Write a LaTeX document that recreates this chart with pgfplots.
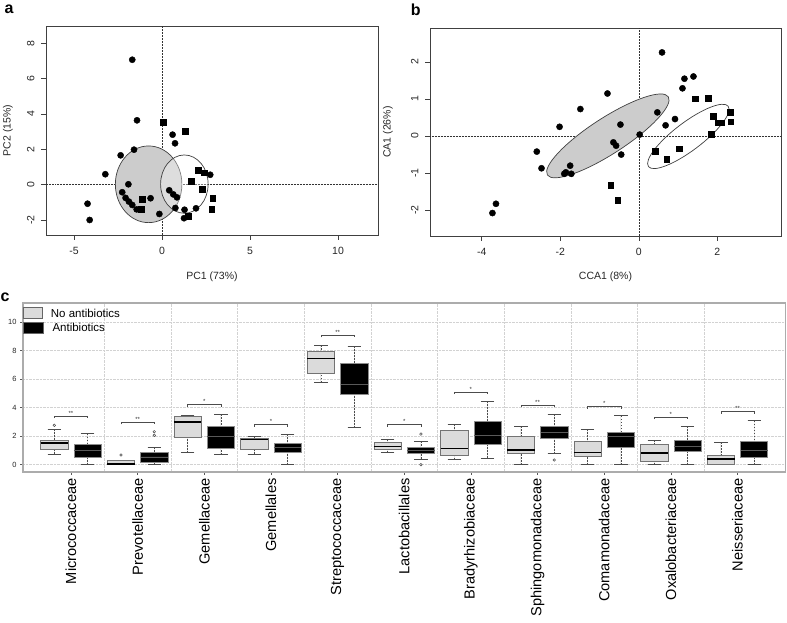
\documentclass[border=0pt]{standalone}
\usepackage{pgfplots}
\pgfplotsset{compat=1.18}
\usepgfplotslibrary{statistics}
\usetikzlibrary{shapes.geometric}
\usepackage{fontspec}
\setmainfont{Liberation Sans}
\begin{document}
\begin{tikzpicture}
\useasboundingbox (0,0) rectangle (787pt,623pt);
\pgfplotsset{
  rstyle/.style={scale only axis, axis line style={black!75, line width=0.8pt},
    tick pos=left, tick align=outside, major tick length=5pt,
    tick style={black!75, line width=0.7pt},
    /pgf/number format/assume math mode=true,
    ticklabel style={font=\fontsize{10.5}{12}\selectfont, text=black!85},
    label style={font=\fontsize{10.5}{12}\selectfont, text=black!85},
    yticklabel style={rotate=90, anchor=south},
    xticklabel shift=4pt, yticklabel shift=3pt,
  },
  circ/.style={only marks, mark=*, mark size=3.1pt, black},
  sq/.style={only marks, mark=square*, mark size=2.9pt, black},
  zline/.style={black!80, line width=0.5pt, densely dotted, no marks},
}
% ---------------- panel a ----------------
\begin{axis}[rstyle, at={(46pt,388pt)}, anchor=south west, width=332pt, height=209pt,
  xmin=-6.59, xmax=12.27, ymin=-2.85, ymax=8.98,
  xtick={-5,0,5,10}, ytick={-2,0,2,4,6,8},
  xlabel={PC1 (73\%)}, ylabel={PC2 (15\%)},
  xlabel style={at={([yshift=-42pt]axis description cs:0.5,0)}, anchor=center},
  ylabel style={at={([xshift=-38pt]axis description cs:0,0.5)}, anchor=center}]
\addplot[zline] coordinates {(0,-2.85) (0,8.98)};
\addplot[zline] coordinates {(-6.59,0) (12.27,0)};
\draw[black!75, line width=0.7pt, fill=gray!40] (axis cs:-0.76,0.02) ellipse [x radius=1.89, y radius=2.17];
\draw[black!75, line width=0.7pt, fill=white, fill opacity=0.35] (axis cs:1.27,0.03) ellipse [x radius=1.35, y radius=1.65];
\addplot[circ] coordinates {
(-1.69,7.07) (-1.42,3.64) (-1.59,1.98) (-2.35,1.66) (-3.22,0.59) (-1.91,0.02)
(-2.26,-0.43) (-2.07,-0.75) (-1.88,-0.96) (-1.69,-1.15) (-1.44,-1.40) (-0.65,-0.77)
(-0.15,-1.66) (-4.23,-1.08) (-4.11,-2.00) (0.60,2.83) (0.74,2.34) (2.74,0.56)
(0.41,-0.32) (0.64,-0.55) (0.85,-0.72) (0.76,-1.32) (1.28,-1.42) (1.93,-1.34) (1.25,-1.90)};
\addplot[sq] coordinates {
(-1.19,-1.40) (-1.14,-0.83) (0.07,3.53) (1.34,3.02) (2.06,0.83) (2.40,0.68)
(1.68,0.21) (2.27,-0.27) (2.88,-0.75) (2.82,-1.38) (1.49,-1.79)};
\end{axis}
% ---------------- panel b ----------------
\begin{axis}[rstyle, at={(430pt,387pt)}, anchor=south west, width=351pt, height=208pt,
  xmin=-5.32, xmax=3.62, ymin=-2.70, ymax=2.92,
  xtick={-4,-2,0,2}, ytick={-2,-1,0,1,2},
  xlabel={CCA1 (8\%)}, ylabel={CA1 (26\%)},
  xlabel style={at={([yshift=-41pt]axis description cs:0.5,0)}, anchor=center},
  ylabel style={at={([xshift=-42pt]axis description cs:0,0.5)}, anchor=center}]
\addplot[zline] coordinates {(0,-2.70) (0,2.92)};
\addplot[zline] coordinates {(-5.32,0) (3.62,0)};
\node[ellipse, draw=black!75, line width=0.7pt, fill=gray!40, minimum width=144pt, minimum height=36pt, inner sep=0pt, rotate=32.9] at (axis cs:-0.79,0.005) {};
\node[ellipse, draw=black!75, line width=0.7pt, minimum width=100pt, minimum height=28pt, inner sep=0pt, rotate=37.1] at (axis cs:1.26,-0.01) {};
\addplot[circ] coordinates {
(0.59,2.26) (1.16,1.55) (1.39,1.61) (1.11,1.29) (-0.80,1.15) (-1.49,0.73)
(-2.02,0.25) (0.47,0.64) (0.92,0.46) (0.68,0.29) (-0.47,0.31) (0.02,0.04)
(-0.65,-0.17) (-0.58,-0.26) (-0.45,-0.50) (-2.60,-0.42) (-2.48,-0.87) (-1.75,-0.80)
(-1.86,-0.98) (-1.90,-1.02) (-1.72,-1.02) (-3.64,-1.83) (-3.73,-2.08)};
\addplot[sq] coordinates {
(1.43,1.01) (1.77,1.03) (-0.72,-1.32) (-0.54,-1.73) (2.33,0.65) (2.34,0.39)
(1.90,0.53) (2.03,0.36) (2.10,0.36) (1.84,0.06) (1.03,-0.34) (0.42,-0.40) (0.71,-0.63)};
\end{axis}
% ---------------- panel c ----------------
\pgfplotsset{
  gbox/.style={draw=black!55, fill=gray!28, line width=0.7pt, mark=o, mark size=1.3pt,
     mark options={black!70, solid, fill=none, line width=0.5pt},
     boxplot/every median/.style={black, line width=1.6pt}},
  bbox/.style={draw=black!45, fill=black, line width=0.7pt, mark=o, mark size=1.3pt,
     mark options={black!70, solid, fill=none, line width=0.5pt},
     boxplot/every median/.style={black!65, line width=0.6pt}},
  brk/.style={black!70, line width=0.6pt, no marks},
}
\begin{axis}[at={(23pt,151pt)}, anchor=south west, scale only axis, width=762.5pt, height=169pt,
  xmin=-0.72, xmax=10.72, ymin=-0.51, ymax=11.33,
  axis line style={gray!65, line width=1.2pt},
  tick pos=left, tick align=outside, major tick length=3pt, minor tick length=0pt,
  tick style={gray!70!black, line width=0.5pt},
  xtick={0,...,10}, minor xtick={0.5,1.5,...,9.5},
  xticklabels={Micrococcaceae,Prevotellaceae,Gemellaceae,Gemellales,Streptococcaceae,Lactobacillales,Bradyrhizobiaceae,Sphingomonadaceae,Comamonadaceae,Oxalobacteriaceae,Neisseriaceae},
  xticklabel style={rotate=90, anchor=east, font=\fontsize{14.6}{16}\selectfont},
  ytick={0,2,4,6,8,10},
  /pgf/number format/assume math mode=true,
  yticklabel style={font=\fontsize{7.5}{9}\selectfont, text=black!85},
  ymajorgrids, xminorgrids,
  major grid style={gray!35, densely dotted, line width=0.5pt},
  minor grid style={gray!35, densely dotted, line width=0.5pt},
  boxplot/draw direction=y,
  boxplot/box extend=0.41, boxplot/whisker extend=0.2,
  boxplot/draw/lower whisker/.code={%
    \draw[black!70, line width=0.6pt, dash pattern=on 1.6pt off 1.4pt]
      (boxplot cs:\pgfplotsboxplotvalue{lower whisker}) -- (boxplot cs:\pgfplotsboxplotvalue{lower quartile});
    \draw[black!70, line width=0.7pt, solid]
      (boxplot whisker cs:\pgfplotsboxplotvalue{lower whisker},0) -- (boxplot whisker cs:\pgfplotsboxplotvalue{lower whisker},1);
  },
  boxplot/draw/upper whisker/.code={%
    \draw[black!70, line width=0.6pt, dash pattern=on 1.6pt off 1.4pt]
      (boxplot cs:\pgfplotsboxplotvalue{upper whisker}) -- (boxplot cs:\pgfplotsboxplotvalue{upper quartile});
    \draw[black!70, line width=0.7pt, solid]
      (boxplot whisker cs:\pgfplotsboxplotvalue{upper whisker},0) -- (boxplot whisker cs:\pgfplotsboxplotvalue{upper whisker},1);
  },
]
% 0 Micrococcaceae
\addplot[gbox, boxplot prepared={draw position=-0.25, lower whisker=0.75, lower quartile=1.05, median=1.54, upper quartile=1.71, upper whisker=2.48}] table[row sep=\\,y index=0] {data\\ 2.76\\};
\addplot[bbox, boxplot prepared={draw position=0.25, lower whisker=0, lower quartile=0.49, median=1.0, upper quartile=1.43, upper whisker=2.17}] coordinates {};
% 1 Prevotellaceae
\addplot[gbox, boxplot prepared={draw position=0.75, lower whisker=0, lower quartile=0, median=0.05, upper quartile=0.28, upper whisker=0.33}] table[row sep=\\,y index=0] {data\\ 0.68\\};
\addplot[bbox, boxplot prepared={draw position=1.25, lower whisker=0, lower quartile=0.16, median=0.55, upper quartile=0.89, upper whisker=1.21}] table[row sep=\\,y index=0] {data\\ 2.06\\ 2.31\\};
% 2 Gemellaceae
\addplot[gbox, boxplot prepared={draw position=1.75, lower whisker=0.84, lower quartile=1.89, median=3.01, upper quartile=3.36, upper whisker=3.48}] coordinates {};
\addplot[bbox, boxplot prepared={draw position=2.25, lower whisker=0.70, lower quartile=1.12, median=2.0, upper quartile=2.69, upper whisker=3.53}] coordinates {};
% 3 Gemellales
\addplot[gbox, boxplot prepared={draw position=2.75, lower whisker=0.75, lower quartile=1.10, median=1.78, upper quartile=1.82, upper whisker=1.96}] coordinates {};
\addplot[bbox, boxplot prepared={draw position=3.25, lower whisker=0, lower quartile=0.89, median=1.2, upper quartile=1.50, upper whisker=2.15}] coordinates {};
% 4 Streptococcaceae
\addplot[gbox, boxplot prepared={draw position=3.75, lower whisker=5.77, lower quartile=6.43, median=7.45, upper quartile=7.97, upper whisker=8.36}] coordinates {};
\addplot[bbox, boxplot prepared={draw position=4.25, lower whisker=2.59, lower quartile=4.93, median=5.6, upper quartile=7.10, upper whisker=8.29}] coordinates {};
% 5 Lactobacillales
\addplot[gbox, boxplot prepared={draw position=4.75, lower whisker=0.84, lower quartile=1.07, median=1.28, upper quartile=1.59, upper whisker=1.78}] coordinates {};
\addplot[bbox, boxplot prepared={draw position=5.25, lower whisker=0.40, lower quartile=0.79, median=1.0, upper quartile=1.24, upper whisker=1.64}] table[row sep=\\,y index=0] {data\\ 2.15\\ 0.0\\};
% 6 Bradyrhizobiaceae
\addplot[gbox, boxplot prepared={draw position=5.75, lower whisker=0.37, lower quartile=0.65, median=1.14, upper quartile=2.41, upper whisker=2.85}] coordinates {};
\addplot[bbox, boxplot prepared={draw position=6.25, lower whisker=0.47, lower quartile=1.45, median=2.08, upper quartile=3.04, upper whisker=4.44}] coordinates {};
% 7 Sphingomonadaceae
\addplot[gbox, boxplot prepared={draw position=6.75, lower whisker=0, lower quartile=0.79, median=1.05, upper quartile=2.01, upper whisker=2.69}] coordinates {};
\addplot[bbox, boxplot prepared={draw position=7.25, lower whisker=0.77, lower quartile=1.87, median=2.27, upper quartile=2.66, upper whisker=3.55}] table[row sep=\\,y index=0] {data\\ 0.33\\};
% 8 Comamonadaceae
\addplot[gbox, boxplot prepared={draw position=7.75, lower whisker=0, lower quartile=0.56, median=0.86, upper quartile=1.66, upper whisker=2.50}] coordinates {};
\addplot[bbox, boxplot prepared={draw position=8.25, lower whisker=0, lower quartile=1.21, median=1.96, upper quartile=2.27, upper whisker=3.43}] coordinates {};
% 9 Oxalobacteriaceae
\addplot[gbox, boxplot prepared={draw position=8.75, lower whisker=0, lower quartile=0.23, median=0.82, upper quartile=1.43, upper whisker=1.71}] coordinates {};
\addplot[bbox, boxplot prepared={draw position=9.25, lower whisker=0, lower quartile=0.93, median=1.31, upper quartile=1.73, upper whisker=2.69}] coordinates {};
% 10 Neisseriaceae
\addplot[gbox, boxplot prepared={draw position=9.75, lower whisker=0, lower quartile=0, median=0.42, upper quartile=0.65, upper whisker=1.59}] coordinates {};
\addplot[bbox, boxplot prepared={draw position=10.25, lower whisker=0, lower quartile=0.51, median=1.0, upper quartile=1.66, upper whisker=3.08}] coordinates {};
% significance brackets
\addplot[brk] coordinates {(-0.25,3.27) (-0.25,3.41) (0.25,3.41) (0.25,3.27)};
\addplot[brk] coordinates {(0.75,2.83) (0.75,2.97) (1.25,2.97) (1.25,2.83)};
\addplot[brk] coordinates {(1.75,4.06) (1.75,4.20) (2.25,4.20) (2.25,4.06)};
\addplot[brk] coordinates {(2.75,2.66) (2.75,2.80) (3.25,2.80) (3.25,2.66)};
\addplot[brk] coordinates {(3.75,8.93) (3.75,9.07) (4.25,9.07) (4.25,8.93)};
\addplot[brk] coordinates {(4.75,2.66) (4.75,2.80) (5.25,2.80) (5.25,2.66)};
\addplot[brk] coordinates {(5.75,4.95) (5.75,5.09) (6.25,5.09) (6.25,4.95)};
\addplot[brk] coordinates {(6.75,4.04) (6.75,4.18) (7.25,4.18) (7.25,4.04)};
\addplot[brk] coordinates {(7.75,3.93) (7.75,4.07) (8.25,4.07) (8.25,3.93)};
\addplot[brk] coordinates {(8.75,3.20) (8.75,3.34) (9.25,3.34) (9.25,3.20)};
\addplot[brk] coordinates {(9.75,3.57) (9.75,3.71) (10.25,3.71) (10.25,3.57)};
\begin{scope}[every node/.style={font=\fontsize{6}{6}\selectfont, anchor=south, inner sep=0.6pt, text=black!80}]
\node at (axis cs:0,3.41) {**};
\node at (axis cs:1,2.97) {**};
\node at (axis cs:2,4.20) {*};
\node at (axis cs:3,2.80) {*};
\node at (axis cs:4,9.07) {**};
\node at (axis cs:5,2.80) {*};
\node at (axis cs:6,5.09) {*};
\node at (axis cs:7,4.18) {**};
\node at (axis cs:8,4.07) {*};
\node at (axis cs:9,3.34) {*};
\node at (axis cs:10,3.71) {**};
\end{scope}
\end{axis}
% legend of panel c
\draw[black!60, line width=0.8pt, fill=gray!28] (23.3pt,304.7pt) rectangle (42.7pt,315.7pt);
\draw[black!60, line width=0.8pt, fill=black] (23.3pt,289.3pt) rectangle (43.3pt,301pt);
\node[anchor=west, inner sep=0pt, font=\fontsize{11.5}{13}\selectfont] at (50.7pt,310pt) {No antibiotics};
\node[anchor=west, inner sep=0pt, font=\fontsize{11.5}{13}\selectfont] at (52.3pt,295.3pt) {Antibiotics};
% panel letters
\node[font=\fontsize{16}{18}\selectfont\bfseries] at (9pt,614pt) {a};
\node[font=\fontsize{16}{18}\selectfont\bfseries] at (415.7pt,613.7pt) {b};
\node[font=\fontsize{16}{18}\selectfont\bfseries] at (5pt,326pt) {c};
\end{tikzpicture}
\end{document}
